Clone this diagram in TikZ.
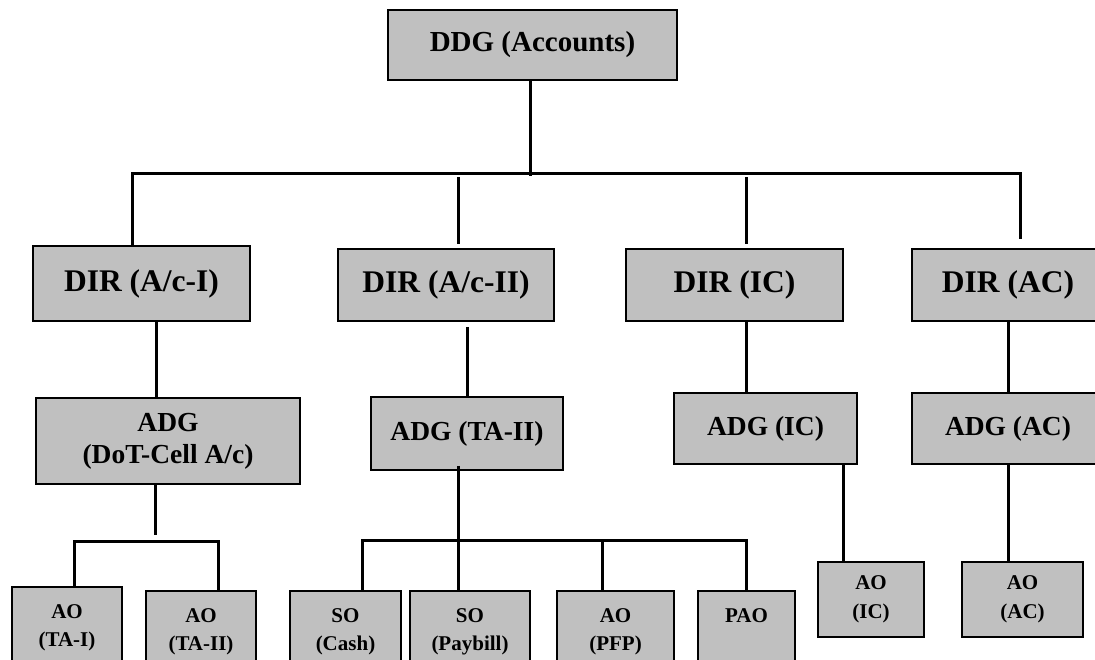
\documentclass[tikz,border=0pt]{standalone}
\usepackage{fontspec}
\setmainfont{Liberation Serif}
\usetikzlibrary{positioning}
\definecolor{boxgray}{HTML}{C0C0C0}

\begin{document}
\begin{tikzpicture}[
     x=1pt, y=-1pt,
     % define styles
     post/.style={
         draw,
         fill=boxgray,
         line width=1.6pt,
         rectangle,
         inner sep=0pt,
         align=center
     },
     top/.style={font=\fontsize{29}{34}\selectfont\bfseries},
     big/.style={font=\fontsize{31.5}{36}\selectfont\bfseries},
     mid/.style={font=\fontsize{27.5}{32}\selectfont\bfseries},
     small/.style={font=\fontsize{21}{28.5}\selectfont\bfseries},
     link/.style={line width=3pt, line join=miter}
]
\useasboundingbox (0,0) rectangle (1095,659);

% head
\node[post, top, minimum width=289pt, minimum height=70pt] (ddg) at (532.5,45) {DDG (Accounts)};

% directors
\node[post, big, minimum width=217pt, minimum height=75pt] (dir1) at (141.5,283.5) {DIR (A/c-I)};
\node[post, big, minimum width=216pt, minimum height=72pt] (dir2) at (446,285) {DIR (A/c-II)};
\node[post, big, minimum width=217pt, minimum height=72pt] (dir3) at (734.5,285) {DIR (IC)};
\node[post, big, minimum width=192pt, minimum height=72pt] (dir4) at (1008,285) {DIR (AC)};

% ADGs
\node[post, mid, minimum width=264pt, minimum height=86pt] (adg1) at (168,441) {ADG\\(DoT-Cell A/c)};
\node[post, mid, minimum width=192pt, minimum height=73pt] (adg2) at (467,433.5) {ADG (TA-II)};
\node[post, mid, minimum width=183pt, minimum height=71pt] (adg3) at (765.5,428.5) {ADG (IC)};
\node[post, mid, minimum width=192pt, minimum height=71pt] (adg4) at (1008,428.5) {ADG (AC)};

% officers
\node[post, small, minimum width=110pt, minimum height=82pt] (ao1) at (67,628) {AO\\(TA-I)};
\node[post, small, minimum width=110pt, minimum height=82pt] (ao2) at (201,632) {AO\\(TA-II)};
\node[post, small, minimum width=111pt, minimum height=82pt] (so1) at (345.5,632) {SO\\(Cash)};
\node[post, small, minimum width=120pt, minimum height=82pt] (so2) at (470,632) {SO\\(Paybill)};
\node[post, small, minimum width=117pt, minimum height=82pt] (aopfp) at (615.5,632) {AO\\(PFP)};
\node[post, small, minimum width=97pt, minimum height=82pt] (pao) at (746.5,632) {PAO\\\phantom{(P)}};
\node[post, small, minimum width=106pt, minimum height=75pt] (aoic) at (871,599.5) {AO\\(IC)};
\node[post, small, minimum width=121pt, minimum height=75pt] (aoac) at (1022.5,599.5) {AO\\(AC)};

% junction points
\coordinate (trunk) at (530,176);
\coordinate (barL) at (132,173);
\coordinate (barR) at (1020,173);
\coordinate (d2) at (458,177);
\coordinate (d3) at (746,177);
\coordinate (j1) at (155,541);
\coordinate (b1L) at (74,541);
\coordinate (b1R) at (218,541);
\coordinate (j2) at (458,540);
\coordinate (b2L) at (362,540);
\coordinate (j3) at (602,540);
\coordinate (b2R) at (746,540);

% top level
\draw[link] (ddg.south -| trunk) -- (trunk);
\draw[link, shorten >=9pt] (barL |- dir1.north) -- (barL) -- (barR) -- (barR |- dir4.north);
\draw[link, shorten >=4pt] (d2) -- (d2 |- dir2.north);
\draw[link, shorten >=4pt] (d3) -- (d3 |- dir3.north);

% directors to ADGs
\draw[link] ([xshift=14.5pt]dir1.south) -- ([xshift=14.5pt]dir1.south |- adg1.north);
\draw[link, shorten <=5pt] (adg2.north |- dir2.south) -- (adg2.north);
\draw[link] (dir3.south -| d3) -- (adg3.north -| d3);
\draw[link] (dir4.south) -- (adg4.north);

% ADGs to officers
\draw[link, shorten >=6pt] (adg1.south -| j1) -- (j1);
\draw[link] (b1L |- ao1.north) -- (b1L) -- (b1R) -- (b1R |- ao2.north);
\draw[link] ([yshift=5pt]adg2.south -| j2) -- (j2) -- (j2 |- so2.north);
\draw[link] (b2L |- so1.north) -- (b2L) -- (b2R) -- (b2R |- pao.north);
\draw[link] (j3) -- (j3 |- aopfp.north);
\draw[link] ([xshift=-28pt]aoic.north |- adg3.south) -- ([xshift=-28pt]aoic.north);
\draw[link] (adg4.south) -- (adg4.south |- aoac.north);
\end{tikzpicture}
\end{document}
